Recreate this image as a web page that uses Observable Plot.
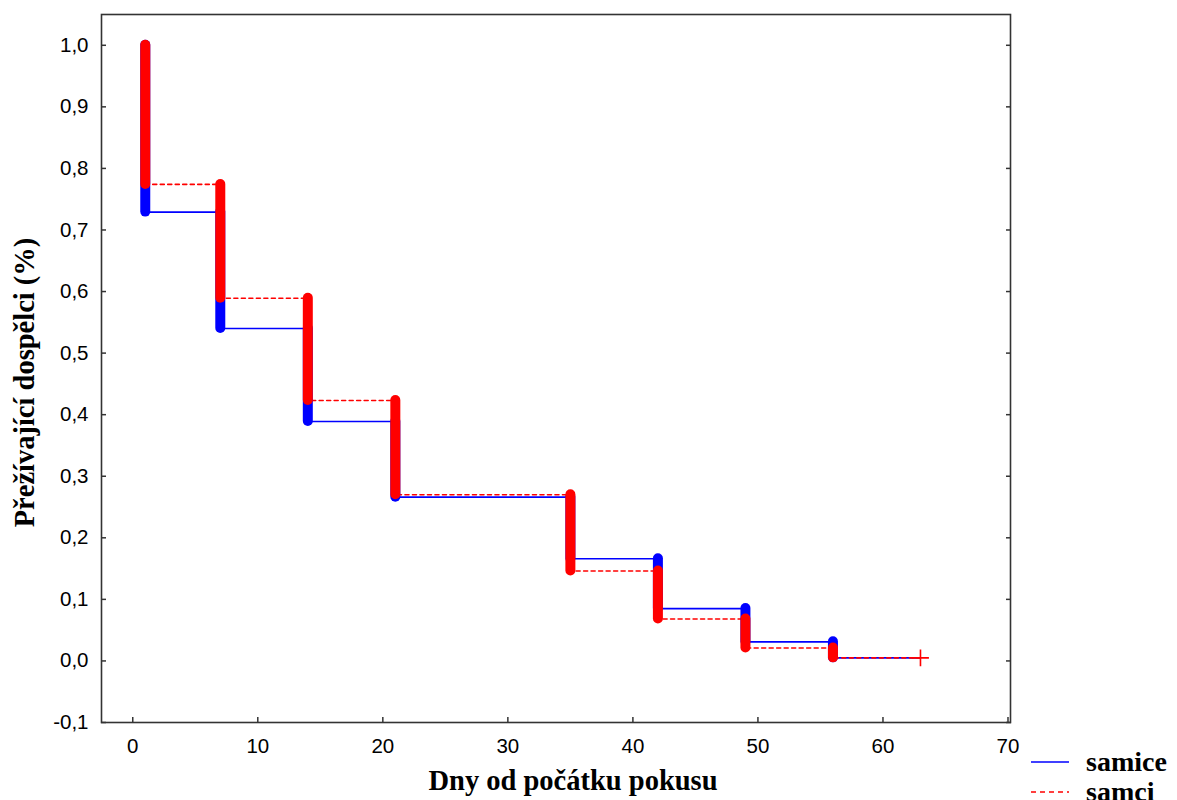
<!DOCTYPE html>
<html>
<head>
<meta charset="utf-8">
<script src="https://cdn.jsdelivr.net/npm/d3@7"></script>
<script src="https://cdn.jsdelivr.net/npm/@observablehq/plot@0.6"></script>
<style>
  html, body { margin: 0; padding: 0; background: #fff; }
  #wrap { position: relative; width: 1177px; height: 800px; overflow: hidden; background: #fff; }
  #legend { position: absolute; left: 1030px; top: 747px; font: bold 28px "Liberation Serif", "Times New Roman", serif; color: #000; }
  #legend .row { display: flex; align-items: center; height: 30px; }
  #legend svg { margin-right: 16px; }
</style>
</head>
<body>
<div id="wrap"></div>
<script>
// Event times (days) and survival proportion after each event
const times = [1, 7, 14, 21, 35, 42, 49, 56];
const endTime = 63;
const samice = [0.729, 0.540, 0.389, 0.266, 0.166, 0.085, 0.031, 0.005]; // females
const samci  = [0.774, 0.589, 0.423, 0.270, 0.146, 0.068, 0.021, 0.005]; // males
const startValue = 1.0;
const xTicks = [0, 10, 20, 30, 40, 50, 60, 70];
const yTicks = [-0.1, 0, 0.1, 0.2, 0.3, 0.4, 0.5, 0.6, 0.7, 0.8, 0.9, 1.0];
const seriesNames = ["samice", "samci"];
const seriesColors = ["#0000ff", "#ff0000"];
const xLabel = "Dny od počátku pokusu";
const yLabel = "Přežívající dospělci (%)";

function stepLine(values) {
  const pts = times.map((t, i) => ({t, s: values[i]}));
  pts.push({t: endTime, s: values[values.length - 1]});
  return pts;
}
function drops(values) {
  return times.map((t, i) => ({t, from: i === 0 ? startValue : values[i - 1], to: values[i]}));
}

const fmt = d => d.toFixed(1).replace(".", ",");
const blue = seriesColors[0], red = seriesColors[1];
const serif = "'Liberation Serif', 'Times New Roman', serif";

const chart = Plot.plot({
  width: 1177,
  height: 800,
  marginLeft: 101,
  marginRight: 167,
  marginTop: 14,
  marginBottom: 78,
  style: {fontFamily: "'Liberation Sans', Arial, sans-serif", fontSize: "20px", color: "#000", background: "#fff"},
  x: {domain: [-2.5, 70.2]},
  y: {domain: [-0.1, 1.05]},
  marks: [
    Plot.frame({stroke: "#333", strokeWidth: 1.6}),
    Plot.axisX({ticks: xTicks, tickSize: -5, tickPadding: 21, tickFormat: d => String(d), fontSize: 20.5, label: null, stroke: "#333", strokeWidth: 1.5}),
    Plot.axisY({ticks: yTicks, tickSize: -5, tickPadding: 18, tickFormat: fmt, fontSize: 20.5, label: null, stroke: "#333", strokeWidth: 1.5}),
    Plot.axisY({anchor: "right", ticks: yTicks, tickSize: -5, tickFormat: () => "", label: null, stroke: "#333", strokeWidth: 1.5}),
    // thin step lines
    Plot.line(stepLine(samice), {x: "t", y: "s", curve: "step-after", stroke: blue, strokeWidth: 1.6}),
    Plot.line(stepLine(samci), {x: "t", y: "s", curve: "step-after", stroke: red, strokeWidth: 1.6, strokeDasharray: "4,3.5"}),
    // thick drop bars
    Plot.ruleX(drops(samice), {x: "t", y1: "from", y2: "to", stroke: blue, strokeWidth: 10, strokeLinecap: "round"}),
    Plot.ruleX(drops(samci), {x: "t", y1: "from", y2: "to", stroke: red, strokeWidth: 10, strokeLinecap: "round"}),
    // censoring mark at the end
    Plot.dot([{t: endTime, s: samci[samci.length - 1]}], {x: "t", y: "s", symbol: "plus", r: 5.5, stroke: red, strokeWidth: 1.6}),
    // axis titles
    Plot.text([xLabel], {frameAnchor: "bottom", dy: 58, dx: 17, lineAnchor: "middle", textAnchor: "middle", fontFamily: serif, fontWeight: "bold", fontSize: 28.5, fill: "#000"}),
    Plot.text([yLabel], {frameAnchor: "left", dx: -77, dy: 14, rotate: -90, lineAnchor: "middle", textAnchor: "middle", fontFamily: serif, fontWeight: "bold", fontSize: 28.5, fill: "#000"})
  ]
});

const wrap = document.getElementById("wrap");
wrap.appendChild(chart);

// Legend
const legend = document.createElement("div");
legend.id = "legend";
seriesNames.forEach((name, i) => {
  const row = document.createElement("div");
  row.className = "row";
  const dash = i === 1 ? ' stroke-dasharray="5,4"' : "";
  row.innerHTML = `<svg width="40" height="10"><line x1="1" x2="39" y1="5" y2="5" stroke="${seriesColors[i]}" stroke-width="1.6"${dash}/></svg><span>${name}</span>`;
  legend.appendChild(row);
});
wrap.appendChild(legend);
</script>
</body>
</html>
